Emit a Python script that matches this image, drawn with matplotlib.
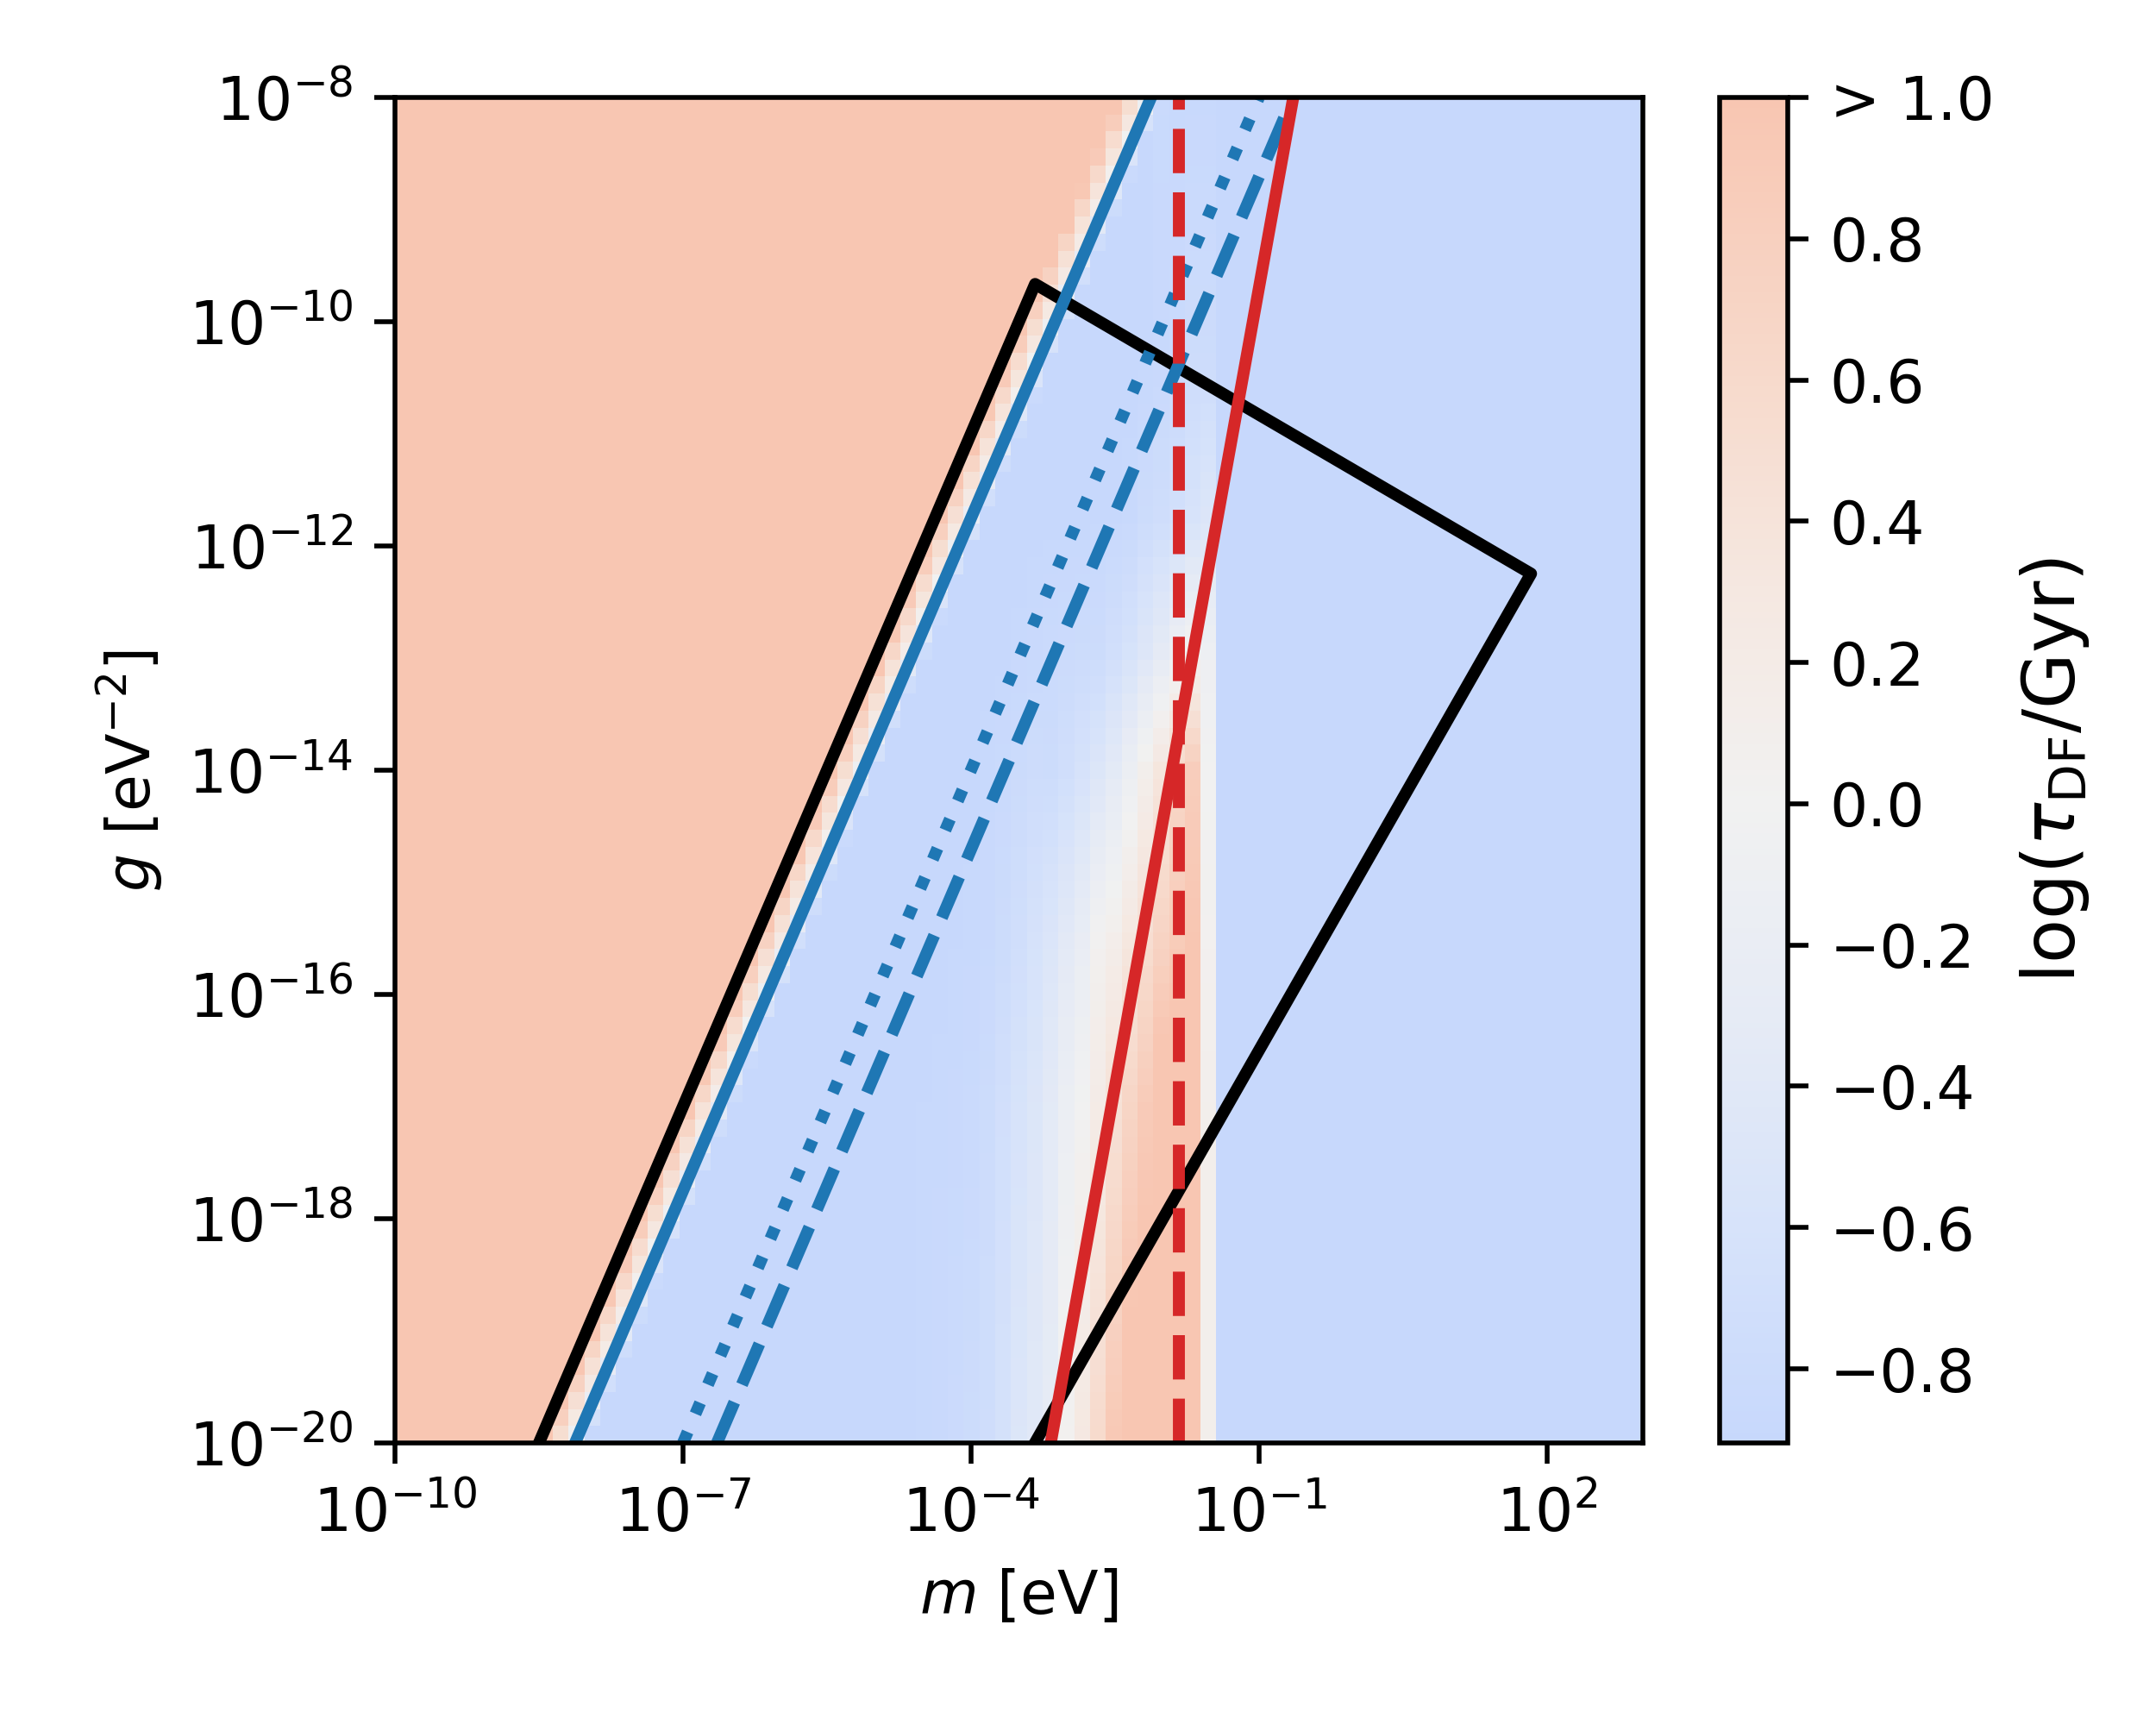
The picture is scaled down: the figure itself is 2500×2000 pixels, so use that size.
import numpy as np
import matplotlib
matplotlib.use("Agg")
import matplotlib.pyplot as plt
from matplotlib.colors import LinearSegmentedColormap, Normalize

# ---------------- data ----------------
# grid (cell edges) of the tau_DF map
m_grid = np.logspace(-10, 3, 80)
g_grid = np.logspace(-20, -8, 80)

z_floor = -0.905          # smallest value on the map (bottom of colour bar)
z_ceil = 1.2              # saturated region (> 1.0)

# diagonal salmon/blue boundary: follows the solid blue line
edge_d = [-2.2, -1.2, -0.4, 0.3, 0.8]          # offset from line, in cells
edge_v = [z_ceil, 0.55, 0.2, -0.6, z_floor]

# vertical band near m ~ 1e-3 .. 3e-2 eV : column values at several log10(g)
band_cols = list(range(33, 52))
band_logg = [-20.0, -17.0, -15.6, -14.0, -13.0, -11.75, -10.3, -8.0]
band_vals = [
    # col: 33     34     35     36     37     38     39     40     41     42     43     44     45     46     47     48     49     50     51
    [-0.88, -0.86, -0.83, -0.80, -0.75, -0.65, -0.50, -0.40, -0.30, 0.05, 0.30, 0.60, 0.95, 1.20, 1.20, 1.20, 1.20, 1.20, 0.10],
    [-0.89, -0.88, -0.87, -0.85, -0.80, -0.70, -0.60, -0.50, -0.35, -0.15, 0.00, 0.20, 0.45, 0.70, 0.90, 1.20, 1.20, 1.20, 0.10],
    [-0.90, -0.90, -0.89, -0.88, -0.86, -0.80, -0.72, -0.62, -0.50, -0.35, -0.20, 0.05, 0.15, 0.35, 0.55, 0.75, 0.90, 1.00, 0.05],
    [-0.905, -0.905, -0.90, -0.90, -0.88, -0.85, -0.82, -0.78, -0.80, -0.72, -0.62, -0.50, -0.35, -0.15, 0.10, 0.35, 0.65, 0.85, 0.00],
    [-0.905, -0.905, -0.905, -0.905, -0.90, -0.90, -0.88, -0.86, -0.84, -0.82, -0.80, -0.80, -0.70, -0.60, -0.45, -0.30, -0.10, 0.05, -0.10],
    [-0.905, -0.905, -0.905, -0.905, -0.905, -0.905, -0.905, -0.90, -0.90, -0.90, -0.90, -0.89, -0.89, -0.88, -0.80, -0.75, -0.70, -0.60, -0.50],
    [-0.905, -0.905, -0.905, -0.905, -0.905, -0.905, -0.905, -0.905, -0.905, -0.905, -0.905, -0.905, -0.905, -0.90, -0.90, -0.88, -0.85, -0.80, -0.80],
    [-0.905, -0.905, -0.905, -0.905, -0.905, -0.905, -0.905, -0.905, -0.905, -0.905, -0.905, -0.905, -0.905, -0.905, -0.90, -0.85, -0.88, -0.88, -0.88],
]

# lines
black_m = [3.16e-9, 4.66e-4, 68.4, 4.64e-4]
black_g = [1e-20, 2.17e-10, 5.66e-13, 1e-20]
blue_solid_m = [7.52e-9, 7.52e-3]
blue_dotted_m = [1.0e-7, 1.0e-1]
blue_dashed_m = [2.26e-7, 2.26e-1]
red_solid_m = [6.78e-4, 0.228]
line_g = [1e-20, 1e-8]
red_dashed_m = 0.0146

# colour scale anchors (value -> colour)
cmap_vals = [-0.905, -0.6, -0.3, 0.0, 0.3, 0.6, 1.0]
cmap_cols = ["#c7d8fc", "#d7e3fa", "#e6ebf5", "#f1f1f1", "#f5e8e1", "#f7dacc", "#f8c6b2"]

cbar_ticks = [-0.8, -0.6, -0.4, -0.2, 0.0, 0.2, 0.4, 0.6, 0.8, 1.0]
cbar_labels = ["\u22120.8", "\u22120.6", "\u22120.4", "\u22120.2", "0.0",
               "0.2", "0.4", "0.6", "0.8", "> 1.0"]
x_ticks = [1e-10, 1e-7, 1e-4, 1e-1, 1e2]
y_ticks = [1e-20, 1e-18, 1e-16, 1e-14, 1e-12, 1e-10, 1e-8]

# ---------------- build the map ----------------
lx = np.log10(m_grid)
ly = np.log10(g_grid)
xc = 0.5 * (lx[:-1] + lx[1:])
yc = 0.5 * (ly[:-1] + ly[1:])
dx = lx[1] - lx[0]
blx = np.log10(blue_solid_m)
bly = np.log10(line_g)

Z = np.empty((len(yc), len(xc)))
bv = np.array(band_vals)
for j, y in enumerate(yc):
    xb = np.interp(y, bly, blx)
    row = np.interp((xc - xb) / dx, edge_d, edge_v)
    band_row = np.array([np.interp(y, band_logg, bv[:, i]) for i in range(len(band_cols))])
    row[band_cols] = np.maximum(row[band_cols], band_row)
    Z[j] = row

# ---------------- colour map ----------------
pos = (np.array(cmap_vals) - cmap_vals[0]) / (cmap_vals[-1] - cmap_vals[0])
cmap = LinearSegmentedColormap.from_list("tdf", list(zip(pos, cmap_cols)), N=256)
norm = Normalize(vmin=z_floor, vmax=1.0)

# ---------------- figure ----------------
plt.rcParams["font.family"] = ["DejaVu Sans"]
plt.rcParams["font.size"] = 10
fig = plt.figure(figsize=(5, 4), dpi=500)
ax = fig.add_axes([0.1832, 0.1635, 0.5788, 0.78])
cax = fig.add_axes([0.7976, 0.1635, 0.0316, 0.78])

mesh = ax.pcolormesh(m_grid, g_grid, Z, cmap=cmap, norm=norm, shading="flat")

ax.plot(black_m, black_g, color="black", lw=2.0, solid_joinstyle="round")
ax.plot(blue_solid_m, line_g, color="#1f77b4", lw=2.0)
ax.plot(blue_dotted_m, line_g, color="#1f77b4", lw=2.0, ls=":")
ax.plot(blue_dashed_m, line_g, color="#1f77b4", lw=2.0, ls="--")
ax.plot(red_solid_m, line_g, color="#d62728", lw=2.0)
ax.plot([red_dashed_m, red_dashed_m], line_g, color="#d62728", lw=2.0, ls="--")

ax.set_xscale("log")
ax.set_yscale("log")
ax.set_xlim(1e-10, 1e3)
ax.set_ylim(1e-20, 1e-8)
ax.set_xticks(x_ticks)
ax.set_yticks(y_ticks)
ax.xaxis.set_minor_locator(matplotlib.ticker.NullLocator())
ax.yaxis.set_minor_locator(matplotlib.ticker.NullLocator())
ax.set_xlabel(r"$m$ [eV]")
ax.set_ylabel(r"$g$ [eV$^{-2}$]")

cb = fig.colorbar(mesh, cax=cax)
cb.set_ticks(cbar_ticks)
cb.set_ticklabels(cbar_labels)
cb.set_label(r"log($\tau_{\rm DF}$/Gyr)", fontsize=12)
cb.ax.minorticks_off()

fig.savefig("out.png", dpi=500)
